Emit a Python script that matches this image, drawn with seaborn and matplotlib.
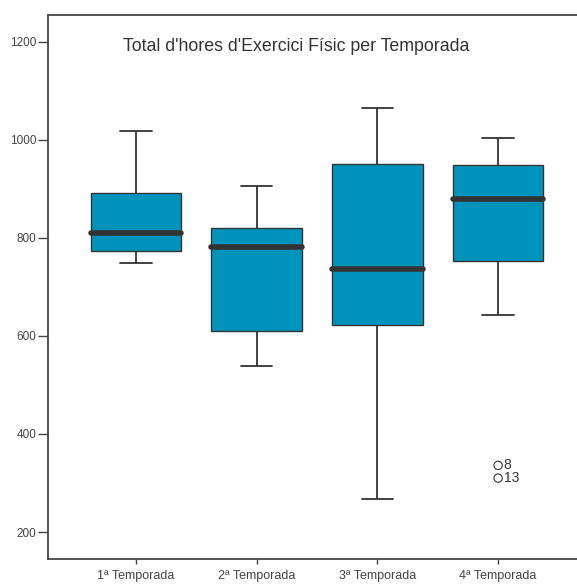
import numpy as np
import pandas as pd
import matplotlib
matplotlib.use("Agg")
import matplotlib.pyplot as plt
import seaborn as sns

# Values (SPSS-style boxplot)
seasons = ["1ª Temporada", "2ª Temporada", "3ª Temporada", "4ª Temporada"]
whisker_low = [749, 539, 267, 643]
q1 = [773, 611, 623, 752]
median = [810, 781, 736, 880]
q3 = [891, 820, 951, 948]
whisker_high = [1017, 906, 1064, 1004]

outlier_season = ["4ª Temporada", "4ª Temporada"]
outlier_value = [336, 310]
outlier_case = ["8", "13"]

title = "Total d'hores d'Exercici Físic per Temporada"
yticks = [200, 400, 600, 800, 1000, 1200]


def main():
    sns.set_style("ticks")
    plt.rcParams["font.family"] = ["Liberation Sans", "DejaVu Sans"]

    # five summary values per season -> quartiles reproduce exactly
    rows = []
    for s, lo, a, m, b, hi in zip(seasons, whisker_low, q1, median, q3, whisker_high):
        for v in (lo, a, m, b, hi):
            rows.append({"season": s, "hours": v})
    df = pd.DataFrame(rows)

    fig = plt.figure(figsize=(5.77, 5.86), dpi=100)
    ax = fig.add_axes([48 / 577, 1 - 559 / 586, 540.6 / 577, 543.7 / 586])

    dark = "#333333"
    sns.boxplot(data=df, x="season", y="hours", order=seasons, whis=(0, 100),
                width=0.75, color="#0093bb", saturation=1, linecolor=dark,
                linewidth=1.0, showfliers=False, capwidths=0.26,
                medianprops=dict(color=dark, linewidth=4.0, solid_capstyle="round"),
                whiskerprops=dict(color=dark, linewidth=1.3),
                capprops=dict(color=dark, linewidth=1.3),
                ax=ax)

    sns.stripplot(x=outlier_season, y=outlier_value, order=seasons, jitter=False,
                  marker="o", size=6, color="white", edgecolor=dark,
                  linewidth=0.8, ax=ax)
    for coll in ax.collections:
        coll.set_facecolor("none")
        coll.set_zorder(5)

    for s, v, c in zip(outlier_season, outlier_value, outlier_case):
        ax.annotate(c, (seasons.index(s), v), xytext=(4, 0),
                    textcoords="offset points", ha="left", va="center",
                    fontsize=10, color=dark)

    ax.set_xlim(-0.729, 3.75)
    ax.set_ylim(145, 1254)
    ax.set_yticks(yticks)
    ax.set_xlabel("")
    ax.set_ylabel("")

    ax.text(0.459, 0.9417, title, transform=ax.transAxes, ha="center",
            va="center", fontsize=12.8, color=dark)

    for sp in ax.spines.values():
        sp.set_color("#444444")
        sp.set_linewidth(1.3)
    ax.tick_params(axis="y", length=7, width=1, color="#444444", pad=1.5,
                   labelsize=8.5, labelcolor="#444444")
    ax.tick_params(axis="x", length=3.6, width=1, color="#444444", pad=4,
                   labelsize=9, labelcolor="#444444")

    fig.savefig("out.png", dpi=100)
    plt.close(fig)


if __name__ == "__main__":
    main()
